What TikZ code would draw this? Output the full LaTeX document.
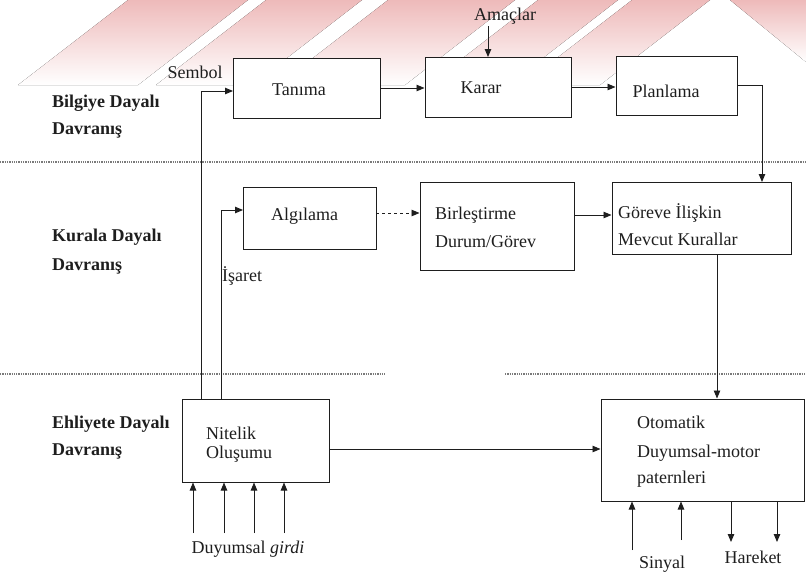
\documentclass[tikz,border=0pt]{standalone}
\usepackage{fontspec}
\setmainfont{Liberation Serif}
\usetikzlibrary{arrows.meta}

\definecolor{ink}{HTML}{1E1E1E}
\definecolor{rule}{HTML}{7A7A7A}
\definecolor{wmpink}{RGB}{238,186,186}

\tikzset{
  txt/.style={font=\fontsize{18}{19}\selectfont, text=ink, inner sep=0pt, anchor=base},
  txtl/.style={txt, anchor=base west},
  lbl/.style={txt, anchor=base west, font=\fontsize{18}{19}\selectfont\bfseries},
  blk/.style={draw=ink, fill=white, line width=1pt, inner sep=0pt, rectangle},
  arr/.style={draw=ink, line width=0.9pt, -{Triangle[length=8pt,width=6.5pt]}},
  sep/.style={draw=rule, line width=1.3pt, densely dotted},
  wm/.style={top color=wmpink, middle color=wmpink!40, bottom color=white, draw=none}
}

\begin{document}
\begin{tikzpicture}[x=1pt,y=-1pt]
  \useasboundingbox (0,0) rectangle (806,576);

  % faded diagonal stripes along the top edge
  \foreach \a/\b in {128/248, 266/362, 388/515, 538/618, 632/710}{
    \fill[wm] (\a,0) -- (\b,0) -- (\b-110,85) -- (\a-110,85) -- cycle;
  }
  \fill[wm] (730,0) -- (806,0) -- (806,62) -- cycle;

  % level separators
  \draw[sep] (0,162) -- (806,162);
  \draw[sep] (0,374) -- (385,374);
  \draw[sep] (505,374) -- (806,374);

  % level labels
  \node[lbl] (l1a) at (52,107) {Bilgiye Dayalı};
  \node[lbl] (l1b) at (52,134) {Davranış};
  \node[lbl] (l2a) at (52,241) {Kurala Dayalı};
  \node[lbl] (l2b) at (52,270) {Davranış};
  \node[lbl] (l3a) at (52,428) {Ehliyete Dayalı};
  \node[lbl] (l3b) at (52,455) {Davranış};

  % blocks
  \node[blk, minimum width=147pt, minimum height=60pt] (tan) at (306.5,88) {};
  \node[blk, minimum width=146pt, minimum height=60pt] (kar) at (498,87) {};
  \node[blk, minimum width=121pt, minimum height=59pt] (pla) at (676.5,85.5) {};
  \node[blk, minimum width=133pt, minimum height=62pt] (alg) at (309.5,218) {};
  \node[blk, minimum width=154pt, minimum height=88pt] (bir) at (497,226) {};
  \node[blk, minimum width=179pt, minimum height=72pt] (gor) at (701.5,218) {};
  \node[blk, minimum width=147pt, minimum height=83pt] (nit) at (255.5,440.5) {};
  \node[blk, minimum width=203pt, minimum height=102pt] (oto) at (702.5,450) {};

  % block texts
  \node[txt] (tTan) at (299,95) {Tanıma};
  \node[txt] (tKar) at (481,93) {Karar};
  \node[txt] (tPla) at (666,97) {Planlama};
  \node[txt] (tAlg) at (304.5,220) {Algılama};
  \node[txtl] (tBir1) at (435,219) {Birleştirme};
  \node[txtl] (tBir2) at (435,247) {Durum/Görev};
  \node[txtl] (tGor1) at (618,218) {Göreve İlişkin};
  \node[txtl] (tGor2) at (618,245) {Mevcut Kurallar};
  \node[txtl] (tNit1) at (206,439) {Nitelik};
  \node[txtl] (tNit2) at (206,458) {Oluşumu};
  \node[txtl] (tOto1) at (637,428) {Otomatik};
  \node[txtl] (tOto2) at (637,457) {Duyumsal-motor};
  \node[txtl] (tOto3) at (637,483) {paternleri};

  % free labels
  \node[txt] (amac) at (505,20) {Amaçlar};
  \node[txt] (sembol) at (195,78) {Sembol};
  \node[txtl] (isaret) at (222,281) {İşaret};
  \node[txt] (girdi) at (248,553) {Duyumsal \textit{girdi}};
  \node[txt] (sinyal) at (662,568) {Sinyal};
  \node[txt] (hareket) at (753,563) {Hareket};

  % connector end points
  \coordinate (amacIn) at (488,57);
  \coordinate (amacOut) at (488,26);
  \coordinate (semOut) at (201,399);
  \coordinate (tanIn)  at (233,91);
  \coordinate (isOut)  at (221,399);
  \coordinate (algIn)  at (243,210);
  \coordinate (algOut) at (376,213);
  \coordinate (birOut) at (574,215);
  \coordinate (gorIn)  at (762,182);
  \coordinate (gorOut) at (717,254);
  \coordinate (nitOut) at (329,449);
  \coordinate (d1) at (193,533);
  \coordinate (d2) at (224,533);
  \coordinate (d3) at (254,533);
  \coordinate (d4) at (284,533);
  \coordinate (s1) at (632,550);
  \coordinate (s2) at (681,540);
  \coordinate (h1) at (731,542);
  \coordinate (h2) at (777,542);

  % connectors
  \draw[arr] (amacOut) -- (amacIn);
  \draw[arr] (semOut) |- (tanIn);
  \draw[arr] (tan.east) -- (tan.east -| kar.west);
  \draw[arr] (kar.east) -- (kar.east -| pla.west);
  \draw[arr] (pla.east) -| (gorIn);
  \draw[arr] (isOut) |- (algIn);
  \draw[arr, dashed] (algOut) -- (algOut -| bir.west);
  \draw[arr] (birOut) -- (birOut -| gor.west);
  \draw[arr] (gorOut) -- (gorOut |- oto.north);
  \draw[arr] (nitOut) -- (nitOut -| oto.west);
  \foreach \p in {d1,d2,d3,d4}{
    \draw[arr] (\p) -- (\p |- nit.south);
  }
  \foreach \p in {s1,s2}{
    \draw[arr] (\p) -- (\p |- oto.south);
  }
  \foreach \p in {h1,h2}{
    \draw[arr] (\p |- oto.south) -- (\p);
  }
\end{tikzpicture}
\end{document}
